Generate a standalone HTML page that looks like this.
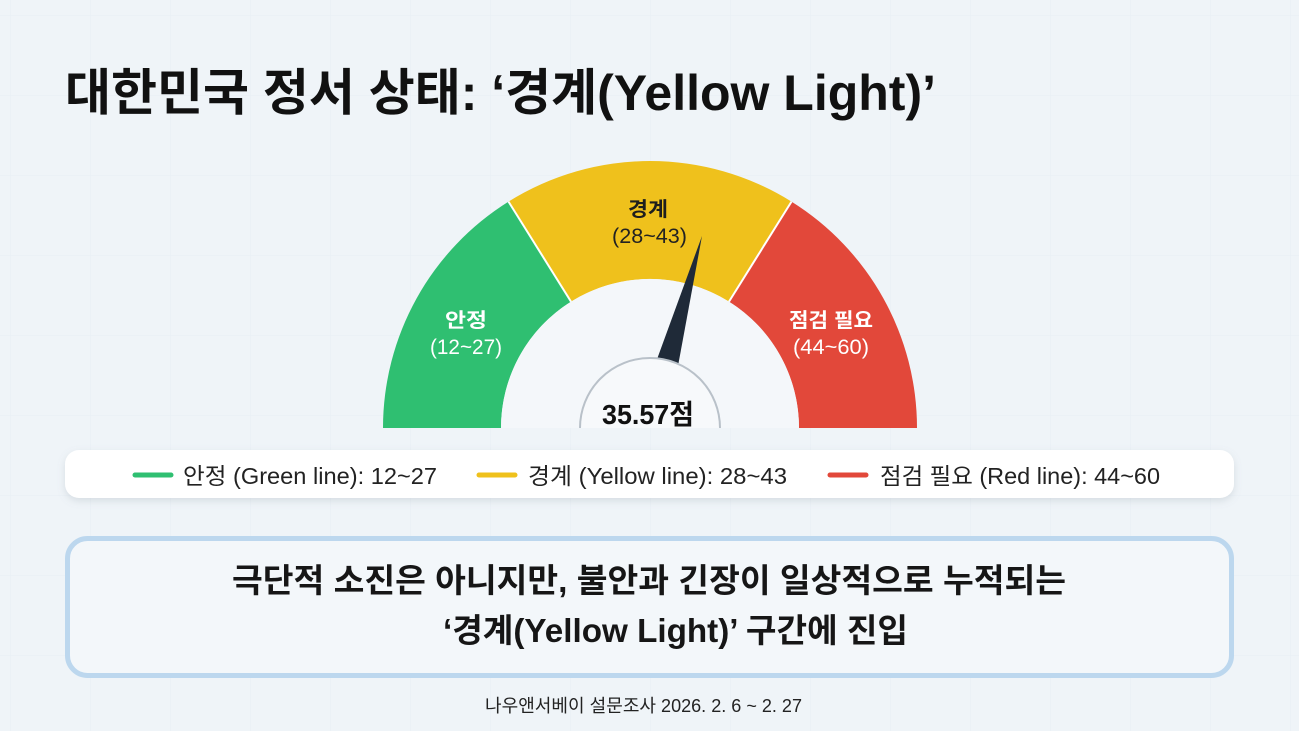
<!DOCTYPE html>
<html lang="ko">
<head>
<meta charset="utf-8">
<style>
  html, body { margin:0; padding:0; }
  body { width:1299px; height:731px; overflow:hidden; background:#eff4f8; }
  svg { display:block; }
  text { font-family: "Liberation Sans", "Noto Sans CJK KR", sans-serif; }
</style>
</head>
<body>
<svg width="1299" height="731" viewBox="0 0 1299 731" xmlns="http://www.w3.org/2000/svg">
  <defs>
    <pattern id="grid" width="80" height="80" patternUnits="userSpaceOnUse" x="10" y="15">
      <path d="M80 0 L0 0 0 80" fill="none" stroke="#dfe8ef" stroke-width="1" opacity="0.45"/>
    </pattern>
    <filter id="sh" x="-5%" y="-40%" width="110%" height="190%">
      <feDropShadow dx="0" dy="3" stdDeviation="4" flood-color="#7a8896" flood-opacity="0.22"/>
    </filter>
  </defs>

  <rect width="1299" height="731" fill="#eff4f8"/>
  <rect width="1299" height="731" fill="url(#grid)"/>

  <!-- Title -->
  <text x="65" y="110" font-size="50" font-weight="700" fill="#111" textLength="871" lengthAdjust="spacingAndGlyphs">대한민국 정서 상태: ‘경계(Yellow Light)’</text>

  <!-- Gauge -->
  <path d="M383,428 A267,267 0 0 1 508.5,201.6 L571,301.6 A149,149 0 0 0 501,428 Z" fill="#2fbf71"/>
  <path d="M508.5,201.6 A267,267 0 0 1 791.5,201.6 L729,301.6 A149,149 0 0 0 571,301.6 Z" fill="#efc11c"/>
  <path d="M791.5,201.6 A267,267 0 0 1 917,428 L799,428 A149,149 0 0 0 729,301.6 Z" fill="#e2483a"/>
  <line x1="508.5" y1="201.6" x2="571" y2="301.6" stroke="#ffffff" stroke-width="2"/>
  <line x1="791.5" y1="201.6" x2="729" y2="301.6" stroke="#ffffff" stroke-width="2"/>
  <path d="M501,428 A149,149 0 0 1 799,428 Z" fill="#f4f7fa"/>

  <!-- segment labels -->
  <text x="628" y="216" font-size="20" font-weight="700" fill="#1e1e1e" textLength="40" lengthAdjust="spacingAndGlyphs">경계</text>
  <text x="612" y="243" font-size="21" fill="#222" textLength="75" lengthAdjust="spacingAndGlyphs">(28~43)</text>
  <text x="445" y="327" font-size="20" font-weight="700" fill="#ffffff" textLength="42" lengthAdjust="spacingAndGlyphs">안정</text>
  <text x="430" y="354" font-size="21" fill="#ffffff" textLength="72" lengthAdjust="spacingAndGlyphs">(12~27)</text>
  <text x="789" y="327" font-size="20" font-weight="700" fill="#ffffff" textLength="84" lengthAdjust="spacingAndGlyphs">점검 필요</text>
  <text x="793" y="354" font-size="21" fill="#ffffff" textLength="76" lengthAdjust="spacingAndGlyphs">(44~60)</text>

  <!-- needle -->
  <polygon points="702,236 656,362 678,366" fill="#1f2a38"/>
  <!-- hub -->
  <path d="M580,428 A70,70 0 0 1 720,428" fill="#f7f9fb" stroke="#b9c1c9" stroke-width="2"/>
  <text x="602" y="424" font-size="28" font-weight="700" fill="#111" textLength="92" lengthAdjust="spacingAndGlyphs">35.57점</text>

  <!-- Legend -->
  <rect x="65" y="450" width="1169" height="48" rx="14" fill="#ffffff" filter="url(#sh)"/>
  <line x1="135" y1="475" x2="171" y2="475" stroke="#2fbf71" stroke-width="5" stroke-linecap="round"/>
  <text x="183" y="484" font-size="23" fill="#222" textLength="254" lengthAdjust="spacingAndGlyphs">안정 (Green line): 12~27</text>
  <line x1="479" y1="475" x2="515" y2="475" stroke="#efc11c" stroke-width="5" stroke-linecap="round"/>
  <text x="528" y="484" font-size="23" fill="#222" textLength="259" lengthAdjust="spacingAndGlyphs">경계 (Yellow line): 28~43</text>
  <line x1="830" y1="475" x2="866" y2="475" stroke="#e2483a" stroke-width="5" stroke-linecap="round"/>
  <text x="880" y="484" font-size="23" fill="#222" textLength="280" lengthAdjust="spacingAndGlyphs">점검 필요 (Red line): 44~60</text>

  <!-- Message box -->
  <rect x="67.5" y="538.5" width="1164" height="137" rx="20" fill="#f3f7fa" stroke="#bcd7ee" stroke-width="5"/>
  <text x="232" y="592" font-size="33" font-weight="700" fill="#161616" textLength="834" lengthAdjust="spacingAndGlyphs">극단적 소진은 아니지만, 불안과 긴장이 일상적으로 누적되는</text>
  <text x="443" y="642" font-size="33" font-weight="700" fill="#161616" textLength="465" lengthAdjust="spacingAndGlyphs">‘경계(Yellow Light)’ 구간에 진입</text>

  <!-- Footer -->
  <text x="485" y="712" font-size="18" fill="#222" textLength="317" lengthAdjust="spacingAndGlyphs">나우앤서베이 설문조사 2026. 2. 6 ~ 2. 27</text>
</svg>
</body>
</html>
